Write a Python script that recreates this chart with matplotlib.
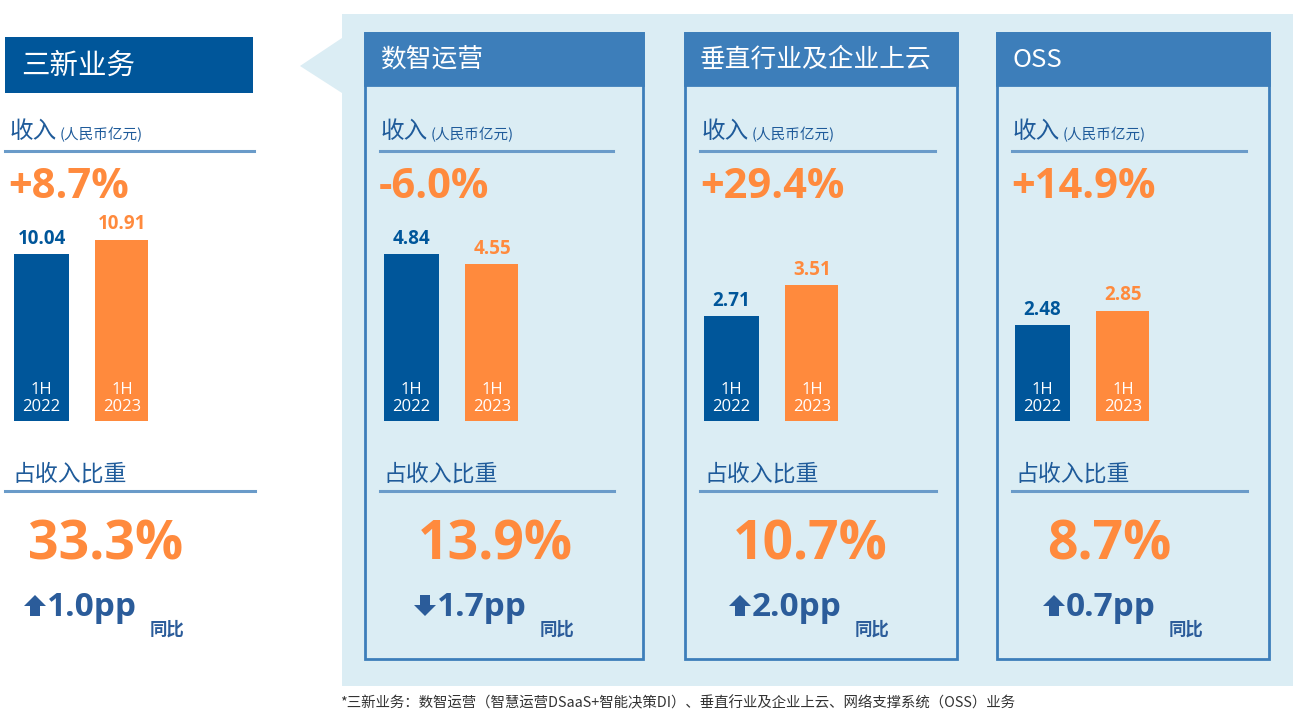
import matplotlib.pyplot as plt
import matplotlib.patches as mpatches

plt.rcParams['font.family'] = ['Noto Sans CJK SC', 'DejaVu Sans']

# --- data ---
panel_names = ["三新业务", "数智运营", "垂直行业及企业上云", "OSS"]
pct_change = ["+8.7%", "-6.0%", "+29.4%", "+14.9%"]
rev_2022 = [10.04, 4.84, 2.71, 2.48]
rev_2023 = [10.91, 4.55, 3.51, 2.85]
period_labels = ["1H\n2022", "1H\n2023"]
share = ["33.3%", "13.9%", "10.7%", "8.7%"]
pp_change = ["1.0pp", "1.7pp", "2.0pp", "0.7pp"]
pp_up = [True, False, True, True]
footnote = "*三新业务：数智运营（智慧运营DSaaS+智能决策DI）、垂直行业及企业上云、网络支撑系统（OSS）业务"

# --- layout (pixels, origin top-left) ---
W, H = 1311, 726
content_x = [8, 379, 700, 1011]
line_span = [(5, 254), (380, 613), (700, 935), (1012, 1246)]
bars_x = [11, 381, 701, 1012]
card_x = [(365, 643), (685, 957), (997, 1269)]
share_x = [28, 418, 733, 1047]
y_top = [11.5, 5.54, 4.94, 4.94]

DARK = "#00569A"
ORANGE = "#FF8A3D"
CARD = "#3D7EBA"
BG = "#DBEDF4"
TXT = "#1F5B9A"
PP = "#2B5C9A"
NUM = ['Open Sans', 'Noto Sans CJK SC']

fig = plt.figure(figsize=(W / 100, H / 100), dpi=100)


def fx(x):
    return x / W


def fy(y):
    return 1 - y / H


def rect(x0, y0, x1, y1, z=-1, **kw):
    fig.add_artist(mpatches.Rectangle((fx(x0), fy(y1)), (x1 - x0) / W, (y1 - y0) / H,
                                      transform=fig.transFigure, zorder=z, **kw))


def poly(pts, z=1, **kw):
    fig.add_artist(mpatches.Polygon([(fx(a), fy(b)) for a, b in pts], closed=True,
                                    transform=fig.transFigure, zorder=z, **kw))


def hline(x0, x1, y, color="#6A9BC9", lw=2.2):
    fig.add_artist(plt.Line2D([fx(x0), fx(x1)], [fy(y), fy(y)], color=color, lw=lw,
                              transform=fig.transFigure))


# background panel with pointer
rect(342, 14, 1293, 686, z=-3, facecolor=BG, edgecolor="none")
poly([(300, 66), (342, 38), (342, 93)], z=-3, facecolor=BG, edgecolor="none")

# left header box
rect(5, 37, 253, 93, facecolor=DARK, edgecolor="none")
fig.text(fx(21), fy(66), panel_names[0], color="white", fontsize=20.5, va="center", ha="left")

# cards
for i, (x0, x1) in enumerate(card_x):
    rect(x0, 33, x1, 659, z=-2, facecolor="none", edgecolor=CARD, lw=2)
    rect(x0, 33, x1, 85, z=-2, facecolor=CARD, edgecolor=CARD, lw=2)
    fig.text(fx(x0 + 15), fy(60), panel_names[i + 1], color="white", fontsize=18.5,
             va="center", ha="left")

for i in range(4):
    cx = content_x[i]
    l0, l1 = line_span[i]
    # revenue header
    fig.text(fx(cx + 2), fy(132), "收入", color=TXT, fontsize=17, va="center", ha="left")
    fig.text(fx(cx + 52), fy(135), "(人民币亿元)", color=TXT, fontsize=10.5, va="center", ha="left")
    hline(l0, l1, 151)
    fig.text(fx(cx), fy(187), pct_change[i], color=ORANGE, fontsize=30, fontweight="bold",
             va="center", ha="left", family=NUM)

    # bars
    ax = fig.add_axes([fx(bars_x[i]), fy(421), 137 / W, (421 - 230) / H])
    ax.set_zorder(2)
    ax.set_xlim(0, 137)
    ax.set_ylim(0, y_top[i])
    ax.axis("off")
    vals = [rev_2022[i], rev_2023[i]]
    xs = [30.5, 111.5]
    ax.bar(xs, vals, width=55, color=[DARK, ORANGE])
    for x, v, c, lab in zip(xs, vals, [DARK, ORANGE], period_labels):
        ax.annotate(f"{v:.2f}", (x, v), xytext=(0, 4), textcoords="offset points",
                    ha="center", va="bottom", color=c, fontsize=13.5, fontweight="bold",
                    family=NUM)
        ax.annotate(lab, (x, 0), xytext=(0, 4), textcoords="offset points",
                    ha="center", va="bottom", color="white", fontsize=12,
                    family=NUM, linespacing=1.15)

    # share
    fig.text(fx(cx + 4), fy(474), "占收入比重", color=TXT, fontsize=16.5, va="center", ha="left")
    hline(l0, l1 + 1, 491)
    fig.text(fx(share_x[i]), fy(545), share[i], color=ORANGE, fontsize=38.5, fontweight="bold",
             va="center", ha="left", family=NUM)

    # arrow + pp
    ax0 = share_x[i] - 3
    if pp_up[i]:
        pts = [(ax0 + 10, 595), (ax0 + 21, 606), (ax0 + 15, 606), (ax0 + 15, 616),
               (ax0 + 5, 616), (ax0 + 5, 606), (ax0 - 1, 606)]
    else:
        pts = [(ax0 + 10, 616), (ax0 + 21, 605), (ax0 + 15, 605), (ax0 + 15, 595),
               (ax0 + 5, 595), (ax0 + 5, 605), (ax0 - 1, 605)]
    poly(pts, facecolor=PP, edgecolor="none")
    fig.text(fx(ax0 + 22), fy(607), pp_change[i], color=PP, fontsize=24, fontweight="bold",
             va="center", ha="left", family=NUM)
    fig.text(fx(ax0 + 125), fy(630), "同比", color=PP, fontsize=12.5, fontweight="bold",
             va="center", ha="left")

fig.text(fx(340), fy(703), footnote, color="#333333", fontsize=10.4, style="italic",
         va="center", ha="left")

fig.savefig("out.png", dpi=100)
